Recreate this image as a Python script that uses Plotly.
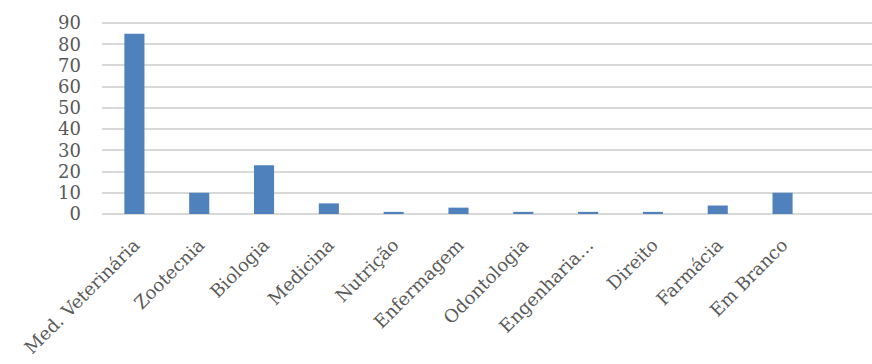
import plotly.graph_objects as go

# Respondents by field of study
cursos = ["Med. Veterinária", "Zootecnia", "Biologia", "Medicina", "Nutrição",
          "Enfermagem", "Odontologia", "Engenharia…", "Direito", "Farmácia",
          "Em Branco", " "]
quantidade = [85, 10, 23, 5, 1, 3, 1, 1, 1, 4, 10, None]
y_ticks = [0, 10, 20, 30, 40, 50, 60, 70, 80, 90]

font_family = "DejaVu Serif, Liberation Serif, serif"
text_color = "#595959"

fig = go.Figure(
    go.Bar(
        x=cursos,
        y=quantidade,
        marker=dict(color="#4f81bd", line=dict(width=0)),
    )
)

fig.update_layout(
    width=872,
    height=364,
    margin=dict(l=102, r=0, t=22, b=150),
    paper_bgcolor="white",
    plot_bgcolor="white",
    bargap=0.69,
    showlegend=False,
    font=dict(family=font_family, size=18, color=text_color),
)

fig.update_xaxes(
    type="category",
    range=[-0.5, 11.38],
    tickangle=-45,
    showgrid=False,
    showline=False,
    zeroline=False,
    ticks="",
    automargin=False,
    ticklabelstandoff=16,
    tickfont=dict(family=font_family, size=18, color=text_color),
)

fig.update_yaxes(
    range=[0, 90.5],
    tickvals=y_ticks,
    showgrid=True,
    gridcolor="#d9d9d9",
    gridwidth=1.5,
    zeroline=True,
    zerolinecolor="#d9d9d9",
    zerolinewidth=1.5,
    showline=False,
    ticks="",
    automargin=False,
    ticklabelstandoff=20,
    tickfont=dict(family=font_family, size=18, color=text_color),
)

fig.write_html("out.html")
